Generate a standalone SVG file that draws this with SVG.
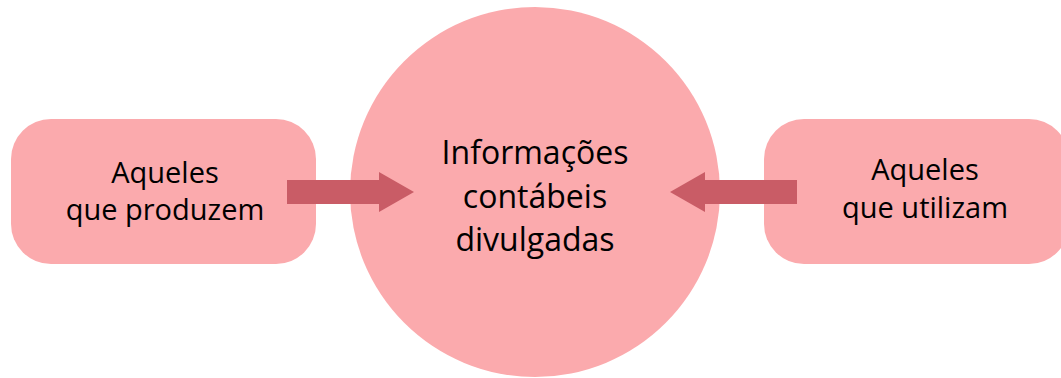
<svg xmlns="http://www.w3.org/2000/svg" width="1061" height="378" viewBox="0 0 1061 378">
<style>
.box{fill:#FBAAAD;}
.circ{fill:#FBAAAD;}
.arrow{fill:#C95C66;}
.t{font-family:"Open Sans","Noto Sans",sans-serif;fill:#000;text-anchor:middle;}
.ts{font-size:29px;}
.tl{font-size:32px;}
</style>
<rect width="1061" height="378" fill="#FFFFFF"/>
<g id="node-center">
<circle class="circ" cx="535" cy="192" r="185"/>
<text class="t tl" x="535" y="164">Informações</text>
<text class="t tl" x="535" y="208">contábeis</text>
<text class="t tl" x="535" y="251">divulgadas</text>
</g>
<g id="node-left">
<rect class="box" x="11" y="119" width="305" height="145" rx="40" ry="40"/>
<text class="t ts" x="165" y="183">Aqueles</text>
<text class="t ts" x="165" y="220">que produzem</text>
</g>
<g id="node-right">
<rect class="box" x="764" y="119" width="305" height="145" rx="40" ry="40"/>
<text class="t ts" x="925" y="180">Aqueles</text>
<text class="t ts" x="925" y="218">que utilizam</text>
</g>
<g id="connectors">
<polygon class="arrow" points="287,180 379,180 379,172 414,192 379,212 379,204 287,204"/>
<polygon class="arrow" points="797,180 705,180 705,172 670,192 705,212 705,204 797,204"/>
</g>
</svg>
